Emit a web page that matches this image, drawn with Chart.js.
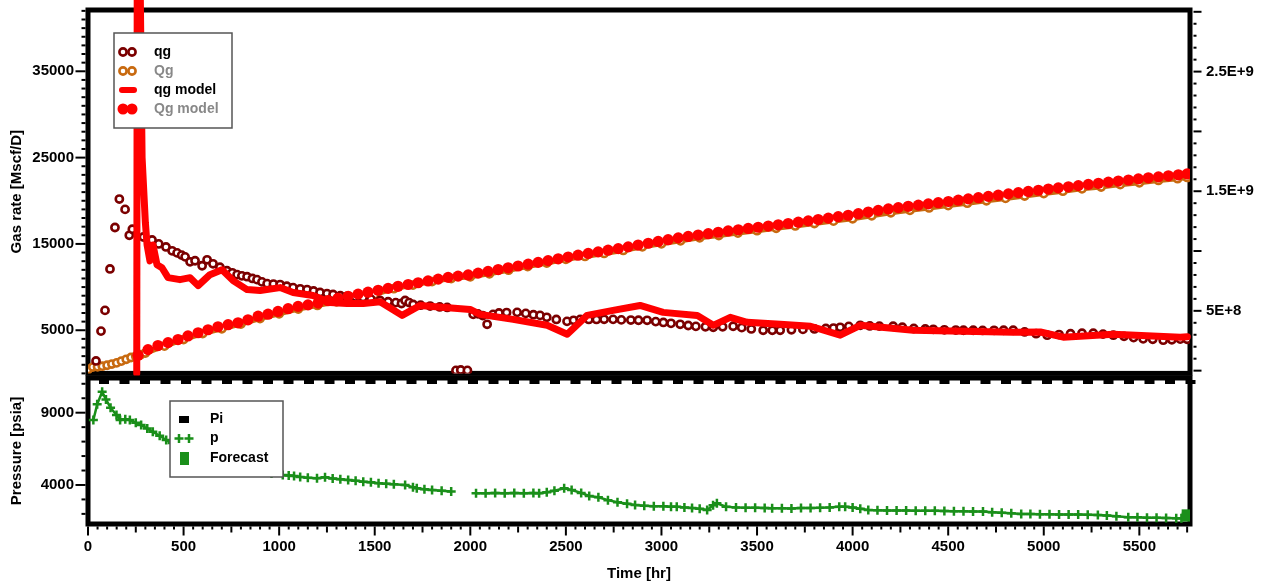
<!DOCTYPE html>
<html>
<head>
<meta charset="utf-8">
<script src="https://cdn.jsdelivr.net/npm/chart.js@4"></script>
<style>
  html, body { margin: 0; padding: 0; background: #fff; }
  #wrap { position: relative; width: 1265px; height: 583px; }
  #rateChart { position: absolute; left: 0; top: 0; }
  #pressChart { position: absolute; left: 0; top: 368px; }
</style>
</head>
<body>
<div id="wrap">
  <canvas id="rateChart" width="1265" height="380"></canvas>
  <canvas id="pressChart" width="1265" height="215"></canvas>
</div>
<script>
// measured gas rate qg [Mscf/D]
const qgHours = [42, 68, 89, 115, 141, 164, 194, 216, 232,
  290, 335, 370, 408, 440, 466, 490, 508, 534, 560, 597, 623, 654, 690, 727, 755, 780, 805, 832, 860,
  884, 910, 937, 970, 1005, 1040, 1073, 1110, 1146, 1180, 1214, 1250, 1282, 1320, 1355, 1400, 1439, 1480, 1528, 1570,
  1610, 1640, 1659, 1680, 1701, 1740, 1790, 1840, 1879,
  1925, 1950, 1985,
  2015, 2040, 2065, 2088, 2119, 2150, 2190, 2245, 2290, 2330, 2365, 2400, 2450, 2506, 2540, 2575, 2620, 2660, 2700, 2747,
  2790, 2840, 2880, 2925, 2970, 3010, 3050, 3098, 3140, 3180, 3230, 3271, 3320, 3375, 3420, 3470, 3532, 3580, 3621, 3680,
  3740, 3800, 3860, 3900, 3935, 3980, 4040, 4090, 4140, 4212, 4260, 4320, 4380, 4422, 4480, 4540, 4580, 4631, 4680, 4740,
  4790, 4840, 4900, 4960, 5018, 5080, 5140, 5200, 5259, 5310, 5364, 5420, 5470, 5520, 5570, 5625, 5670, 5714, 5750];
const qgRates = [1440, 4900, 7300, 12100, 16900, 20200, 19000, 16000, 16700,
  15800, 15460, 15000, 14650, 14200, 13960, 13700, 13500, 12930, 13050, 12470, 13160, 12700, 12300, 11900, 11650, 11440, 11300, 11200, 11000,
  10860, 10600, 10400, 10350, 10290, 10100, 9940, 9800, 9710, 9550, 9370, 9250, 9140, 9000, 8910, 8850, 8790, 8600, 8450, 8300,
  8200, 8100, 8450, 8200, 7990, 7900, 7800, 7700, 7640,
  350, 400, 350,
  6840, 6900, 6700, 5690, 6840, 7000, 7050, 7070, 6950, 6800, 6720, 6500, 6250, 6030, 6150, 6260, 6250, 6250, 6270, 6260,
  6200, 6180, 6160, 6150, 6000, 5900, 5800, 5690, 5550, 5450, 5400, 5340, 5400, 5460, 5300, 5150, 5000, 5000, 5000, 5050,
  5100, 5150, 5200, 5250, 5340, 5450, 5570, 5500, 5480, 5460, 5350, 5200, 5150, 5110, 5050, 5020, 5000, 5000, 4980, 4990,
  5000, 5000, 4800, 4600, 4430, 4500, 4600, 4650, 4660, 4550, 4430, 4300, 4150, 4000, 3950, 3850, 3900, 3970, 3950];

// model gas rate [Mscf/D]
const qgModelHours = [255, 258, 268, 283, 300, 309, 324, 340, 361, 387, 419, 481, 534, 576, 638, 701, 759, 832, 900, 1005,
  1073, 1177, 1266, 1355, 1440, 1528, 1643, 1737, 1999, 2051, 2224, 2402, 2507, 2611, 2747, 2888, 3009, 3187, 3271, 3360,
  3448, 3621, 3780, 3935, 4040, 4317, 4840, 4982, 5102, 5364, 5714, 5751];
const qgModelRates = [0, 55000, 55000, 25000, 17500, 14880, 13040, 14880, 12590, 12240, 11090, 10860, 11090, 10170, 11440, 12010, 10750, 9710, 9600, 9940,
  9370, 9020, 8220, 8100, 8100, 8300, 6720, 7870, 7410, 6840, 6260, 5570, 4540, 6720, 7300, 7870, 7070, 6720, 5570, 6490,
  5920, 5690, 5460, 4430, 5570, 5000, 4770, 4800, 4200, 4540, 4200, 4250];

// cumulative gas, units of 1E+9 scf
const QgModelHours = [262, 314, 366, 419, 471, 523, 576, 628, 680, 733,
  785, 837, 890, 942, 994, 1047, 1099, 1151, 1204, 1256,
  1308, 1361, 1413, 1465, 1518, 1570, 1622, 1675, 1727, 1779,
  1832, 1884, 1936, 1989, 2041, 2093, 2146, 2198, 2250, 2303,
  2355, 2407, 2460, 2512, 2564, 2617, 2669, 2721, 2774, 2826,
  2878, 2931, 2983, 3035, 3088, 3140, 3192, 3245, 3297, 3349,
  3402, 3454, 3506, 3559, 3611, 3663, 3716, 3768, 3820, 3873,
  3925, 3977, 4030, 4082, 4134, 4187, 4239, 4291, 4344, 4396,
  4448, 4501, 4553, 4605, 4658, 4710, 4762, 4815, 4867, 4919,
  4972, 5024, 5076, 5129, 5181, 5233, 5286, 5338, 5390, 5443,
  5495, 5547, 5600, 5652, 5704, 5750];
const QgModelCum = [0.128, 0.176, 0.21, 0.234, 0.26, 0.29, 0.317, 0.342, 0.367, 0.384,
  0.40, 0.425, 0.455, 0.472, 0.495, 0.518, 0.537, 0.55, 0.565, 0.585,
  0.605, 0.622, 0.64, 0.656, 0.672, 0.688, 0.705, 0.72, 0.735, 0.75,
  0.765, 0.78, 0.79, 0.80, 0.815, 0.83, 0.845, 0.86, 0.875, 0.89,
  0.905, 0.92, 0.935, 0.95, 0.965, 0.98, 0.993, 1.007, 1.02, 1.035,
  1.05, 1.065, 1.08, 1.095, 1.11, 1.122, 1.134, 1.145, 1.157, 1.168,
  1.178, 1.189, 1.199, 1.209, 1.219, 1.23, 1.241, 1.252, 1.263, 1.275,
  1.287, 1.299, 1.312, 1.326, 1.34, 1.352, 1.363, 1.374, 1.384, 1.394,
  1.404, 1.414, 1.425, 1.436, 1.446, 1.457, 1.467, 1.478, 1.488, 1.498,
  1.508, 1.518, 1.528, 1.537, 1.547, 1.557, 1.566, 1.576, 1.585, 1.594,
  1.603, 1.612, 1.62, 1.629, 1.637, 1.645];

const QgHours = [0, 25, 50, 75, 100, 125, 150, 175, 200, 225, 250, 275, 300,
  400, 500, 600, 700, 800, 900, 1000, 1100, 1200, 1300, 1400, 1500,
  1600, 1700, 1800, 1900, 2000, 2100, 2200, 2300, 2400, 2500,
  2600, 2700, 2800, 2900, 3000, 3100, 3200, 3300, 3400, 3500,
  3600, 3700, 3800, 3900, 4000, 4100, 4200, 4300, 4400, 4500,
  4600, 4700, 4800, 4900, 5000, 5100, 5200, 5300, 5400, 5500,
  5600, 5700, 5750];
const QgCum = [0.01, 0.03, 0.032, 0.037, 0.045, 0.055, 0.065, 0.08, 0.095, 0.11, 0.12, 0.133, 0.147,
  0.205, 0.26, 0.31, 0.35, 0.39, 0.435, 0.475, 0.515, 0.545, 0.575, 0.605, 0.635,
  0.685, 0.715, 0.745, 0.77, 0.785, 0.81, 0.84, 0.87, 0.90, 0.93,
  0.955, 0.98, 1.005, 1.035, 1.06, 1.085, 1.11, 1.13, 1.15, 1.17,
  1.19, 1.21, 1.23, 1.25, 1.27, 1.295, 1.32, 1.34, 1.36, 1.38,
  1.40, 1.42, 1.44, 1.46, 1.48, 1.50, 1.52, 1.535, 1.555, 1.57,
  1.59, 1.605, 1.615];

// pressure [psia]
const pHours = [28, 48, 74, 94, 118, 149, 168, 195, 219, 250, 278, 310, 339, 375, 409, 440, 460, 510, 560, 610,
  660, 710, 760, 810, 860, 910, 960, 1019, 1050, 1078, 1110, 1150, 1198, 1240, 1280, 1320, 1361, 1400, 1440, 1480,
  1520, 1560, 1600, 1659, 1700, 1720, 1760, 1800, 1850, 1900,
  2030, 2080, 2130, 2180, 2230, 2280, 2330, 2360, 2400, 2440, 2491, 2530, 2580, 2622, 2670, 2720, 2770, 2820, 2862, 2910,
  2960, 3010, 3050, 3080, 3120, 3160, 3200, 3239, 3270, 3290, 3338, 3390, 3440, 3490, 3540, 3579, 3630, 3680, 3730, 3780,
  3830, 3880, 3930, 3961, 4000, 4040, 4082, 4130, 4180, 4230, 4280, 4330, 4380, 4430, 4480, 4530, 4580, 4630, 4682, 4730,
  4780, 4830, 4882, 4930, 4980, 5030, 5080, 5130, 5180, 5230, 5283, 5330, 5380, 5442, 5490, 5540, 5590, 5640, 5693, 5720];
const pValues = [8490, 9577, 10450, 9920, 9340, 8840, 8490, 8550, 8490, 8300, 8150, 7900, 7680, 7400, 7110, 6900, 6800, 6550, 6300, 6050,
  5800, 5600, 5400, 5200, 5050, 4900, 4800, 4690, 4650, 4620, 4560, 4500, 4460, 4530, 4450, 4400, 4350, 4300, 4230, 4180,
  4120, 4080, 4050, 4000, 3850, 3770, 3700, 3650, 3600, 3540,
  3430, 3430, 3440, 3430, 3440, 3430, 3450, 3430, 3500, 3600, 3770, 3650, 3450, 3240, 3150, 2950, 2800, 2700, 2620, 2560,
  2530, 2520, 2500, 2500, 2450, 2400, 2350, 2270, 2600, 2730, 2500, 2450, 2430, 2420, 2400, 2390, 2390, 2380, 2400, 2410,
  2420, 2450, 2500, 2500, 2440, 2350, 2270, 2250, 2240, 2230, 2230, 2220, 2220, 2210, 2200, 2190, 2180, 2170, 2160, 2120,
  2080, 2040, 2000, 1990, 1980, 1970, 1960, 1950, 1950, 1940, 1930, 1880, 1830, 1770, 1760, 1740, 1730, 1710, 1700, 1690];
const piHours = [];
const piValues = [];
const forecastHours = [5745, 5745];
const forecastValues = [2000, 1780];

// tick labels
const rateTicks = [5000, 15000, 25000, 35000];
const cumTicks = [0.5, 1.5, 2.5];
const cumTickLabels = ['5E+8', '1.5E+9', '2.5E+9'];
const pressureTicks = [4000, 9000];
const timeTicks = [0, 500, 1000, 1500, 2000, 2500, 3000, 3500, 4000, 4500, 5000, 5500];

const toXY = (xs, ys) => xs.map((x, i) => ({ x, y: ys[i] }));

const FAMILY = "'Liberation Sans', Arial, sans-serif";
const FONT = { family: FAMILY, size: 15, weight: 'bold' };
const DARK_RED = '#7b0000';
const ORANGE = '#c86a10';
const RED = '#ff0000';
const GREEN = '#1a8f1a';
const T_MAX = 5765;

// frame + tick marks, drawn under the data like the original
const framePlugin = {
  id: 'frame',
  beforeDatasetsDraw(chart, args, opts) {
    const { ctx, chartArea: a, scales } = chart;
    ctx.save();
    ctx.strokeStyle = '#000';
    ctx.fillStyle = '#000';
    ctx.lineWidth = 5;
    ctx.strokeRect(a.left, a.top, a.right - a.left, a.bottom - a.top);
    ctx.lineWidth = 2;
    opts.ticks.forEach(t => {
      const s = scales[t.id];
      for (let i = 0; ; i++) {
        const v = t.from + i * t.step;
        if (v > t.to + 1e-9) break;
        let len = t.short;
        if (t.major.some(m => Math.abs(m - v) < 1e-6)) len = t.long;
        else if (t.mid && Math.abs(v / t.mid - Math.round(v / t.mid)) < 1e-6) len = t.midLen;
        const p = s.getPixelForValue(v);
        ctx.beginPath();
        if (t.side === 'left') { ctx.moveTo(a.left - 2.5, p); ctx.lineTo(a.left - 2.5 - len, p); }
        if (t.side === 'right') { ctx.moveTo(a.right + 3.5, p); ctx.lineTo(a.right + 3.5 + len, p); }
        if (t.side === 'bottom') { ctx.moveTo(p, a.bottom + 2.5); ctx.lineTo(p, a.bottom + 2.5 + len); }
        ctx.stroke();
      }
    });
    if (opts.notches) {
      for (let x = 99; x < a.right - 4; x += 20.5) {
        ctx.fillRect(x, a.top + 2, 10, 4);
      }
    }
    ctx.restore();
  }
};

const ring = (ctx, x, y, color) => {
  ctx.beginPath();
  ctx.arc(x, y, 3.6, 0, Math.PI * 2);
  ctx.fillStyle = '#fff';
  ctx.fill();
  ctx.lineWidth = 2.6;
  ctx.strokeStyle = color;
  ctx.stroke();
};
const dot = (ctx, x, y, r, color) => {
  ctx.beginPath();
  ctx.arc(x, y, r, 0, Math.PI * 2);
  ctx.fillStyle = color;
  ctx.fill();
};
const cross = (ctx, x, y, color) => {
  ctx.beginPath();
  ctx.moveTo(x - 4.5, y); ctx.lineTo(x + 4.5, y);
  ctx.moveTo(x, y - 4.5); ctx.lineTo(x, y + 4.5);
  ctx.lineWidth = 2.5;
  ctx.strokeStyle = color;
  ctx.stroke();
};

const legendPlugin = {
  id: 'boxLegend',
  afterDraw(chart, args, opts) {
    const ctx = chart.ctx;
    const b = opts.box;
    ctx.save();
    ctx.fillStyle = '#fff';
    ctx.fillRect(b.x, b.y, b.w, b.h);
    ctx.lineWidth = 1.5;
    ctx.strokeStyle = '#555';
    ctx.strokeRect(b.x, b.y, b.w, b.h);
    ctx.font = 'bold 14px ' + FAMILY;
    ctx.textBaseline = 'middle';
    ctx.textAlign = 'left';
    opts.items.forEach((item, i) => {
      const y = b.y + b.first + i * b.gap;
      item.marker(ctx, b.x + b.markX, y);
      ctx.fillStyle = item.color;
      ctx.fillText(item.text, b.x + b.textX, y);
    });
    ctx.restore();
  }
};

const leftAxis = (min, max, ticks, title) => ({
  type: 'linear', position: 'left', min, max,
  afterBuildTicks: s => { s.ticks = ticks.map(v => ({ value: v })); },
  afterFit: s => { s.width = 88; s.paddingTop = 0; s.paddingBottom = 0; },
  grid: { display: false, drawTicks: false },
  border: { display: false },
  ticks: { color: '#000', font: FONT, padding: 14, callback: v => String(v) },
  title: { display: true, text: title, color: '#000', font: FONT, padding: { top: 8, bottom: 0 } }
});

// gas rate / cumulative panel
new Chart(document.getElementById('rateChart'), {
  type: 'line',
  data: {
    datasets: [
      { label: 'qg model', data: toXY(qgModelHours, qgModelRates), yAxisID: 'y',
        borderColor: RED, borderWidth: 7, pointRadius: 0, tension: 0, clip: false,
        borderJoinStyle: 'round', borderCapStyle: 'round' },
      { label: 'Qg model', data: toXY(QgModelHours, QgModelCum), yAxisID: 'y2', showLine: false,
        pointRadius: 5.6, pointBackgroundColor: RED, pointBorderWidth: 0 },
      { label: 'qg', data: toXY(qgHours, qgRates), yAxisID: 'y', showLine: false,
        pointRadius: 3.6, pointBorderWidth: 2.6, pointBorderColor: DARK_RED, pointBackgroundColor: '#fff' },
      { label: 'Qg', data: toXY(QgHours, QgCum), yAxisID: 'y2', showLine: true,
        borderColor: ORANGE, borderWidth: 5, pointRadius: 3.6, pointBorderWidth: 2.6,
        pointBorderColor: ORANGE, pointBackgroundColor: '#fff' }
    ]
  },
  options: {
    responsive: false,
    animation: false,
    events: [],
    layout: { padding: { top: 10, bottom: 4 } },
    plugins: {
      legend: { display: false },
      tooltip: { enabled: false },
      frame: {
        ticks: [
          { id: 'y', side: 'left', from: 0, to: 42000, step: 1000, major: rateTicks, long: 10, short: 4 },
          { id: 'y2', side: 'right', from: 0, to: 3.0, step: 0.1, major: [0, 0.5, 1, 1.5, 2, 2.5, 3], long: 8, short: 3 }
        ]
      },
      boxLegend: {
        box: { x: 114, y: 33, w: 118, h: 95, first: 19, gap: 19, markX: 9, textX: 40 },
        items: [
          { text: 'qg', color: '#000', marker: (c, x, y) => { ring(c, x, y, DARK_RED); ring(c, x + 9, y, DARK_RED); } },
          { text: 'Qg', color: '#888', marker: (c, x, y) => { ring(c, x, y, ORANGE); ring(c, x + 9, y, ORANGE); } },
          { text: 'qg model', color: '#000', marker: (c, x, y) => {
              c.beginPath(); c.moveTo(x - 1, y); c.lineTo(x + 11, y);
              c.lineWidth = 6; c.lineCap = 'round'; c.strokeStyle = RED; c.stroke(); } },
          { text: 'Qg model', color: '#888', marker: (c, x, y) => { dot(c, x, y, 5.5, RED); dot(c, x + 9, y, 5.5, RED); } }
        ]
      }
    },
    scales: {
      x: { type: 'linear', min: 0, max: T_MAX, display: false },
      y: leftAxis(0, 42100, rateTicks, 'Gas rate [Mscf/D]'),
      y2: {
        type: 'linear', position: 'right', min: -0.023, max: 3.015,
        afterBuildTicks: s => { s.ticks = cumTicks.map(v => ({ value: v })); },
        afterFit: s => { s.width = 75; s.paddingTop = 0; s.paddingBottom = 0; },
        grid: { display: false, drawTicks: false },
        border: { display: false },
        ticks: { color: '#000', font: FONT, padding: 16, callback: v => cumTickLabels[cumTicks.indexOf(v)] }
      }
    }
  },
  plugins: [framePlugin, legendPlugin]
});

// pressure panel
new Chart(document.getElementById('pressChart'), {
  type: 'line',
  data: {
    datasets: [
      { label: 'Pi', data: toXY(piHours, piValues), showLine: false,
        pointStyle: 'rect', pointRadius: 5, pointBackgroundColor: '#000' },
      { label: 'Forecast', data: toXY(forecastHours, forecastValues), showLine: false,
        pointStyle: 'rect', pointRadius: 6.4, pointBorderWidth: 0, pointBackgroundColor: GREEN },
      { label: 'p', data: toXY(pHours, pValues), showLine: true, borderWidth: 2.5,
        borderColor: GREEN, pointStyle: 'cross', pointRadius: 4.5, pointBorderWidth: 2.5, pointBorderColor: GREEN,
        segment: { borderColor: c => (c.p1.parsed.x - c.p0.parsed.x > 100 ? 'rgba(0,0,0,0)' : GREEN) } }
    ]
  },
  options: {
    responsive: false,
    animation: false,
    events: [],
    layout: { padding: { top: 10, right: 75 } },
    plugins: {
      legend: { display: false },
      tooltip: { enabled: false },
      frame: {
        notches: true,
        ticks: [
          { id: 'y', side: 'left', from: 2000, to: 11000, step: 1000, major: pressureTicks, long: 10, short: 4 },
          { id: 'x', side: 'bottom', from: 0, to: 5750, step: 50, major: timeTicks, long: 9, mid: 250, midLen: 6, short: 3 }
        ]
      },
      boxLegend: {
        box: { x: 170, y: 33, w: 113, h: 76, first: 18, gap: 19.5, markX: 9, textX: 40 },
        items: [
          { text: 'Pi', color: '#000', marker: (c, x, y) => { c.fillStyle = '#000'; c.fillRect(x, y - 3, 10, 7); } },
          { text: 'p', color: '#000', marker: (c, x, y) => { cross(c, x, y, GREEN); cross(c, x + 10, y, GREEN); } },
          { text: 'Forecast', color: '#000', marker: (c, x, y) => { c.fillStyle = GREEN; c.fillRect(x + 1, y - 6, 9, 13); } }
        ]
      }
    },
    scales: {
      x: {
        type: 'linear', position: 'bottom', min: 0, max: T_MAX,
        afterBuildTicks: s => { s.ticks = timeTicks.map(v => ({ value: v })); },
        afterFit: s => { s.height = 59; s.paddingLeft = 0; s.paddingRight = 0; },
        grid: { display: false, drawTicks: false },
        border: { display: false },
        ticks: { color: '#000', font: FONT, padding: 14, maxRotation: 0, autoSkip: false, callback: v => String(v) },
        title: { display: true, text: 'Time [hr]', color: '#000', font: FONT, padding: { top: 0, bottom: 0 } }
      },
      y: leftAxis(1300, 11400, pressureTicks, 'Pressure [psia]')
    }
  },
  plugins: [framePlugin, legendPlugin]
});
</script>
</body>
</html>
